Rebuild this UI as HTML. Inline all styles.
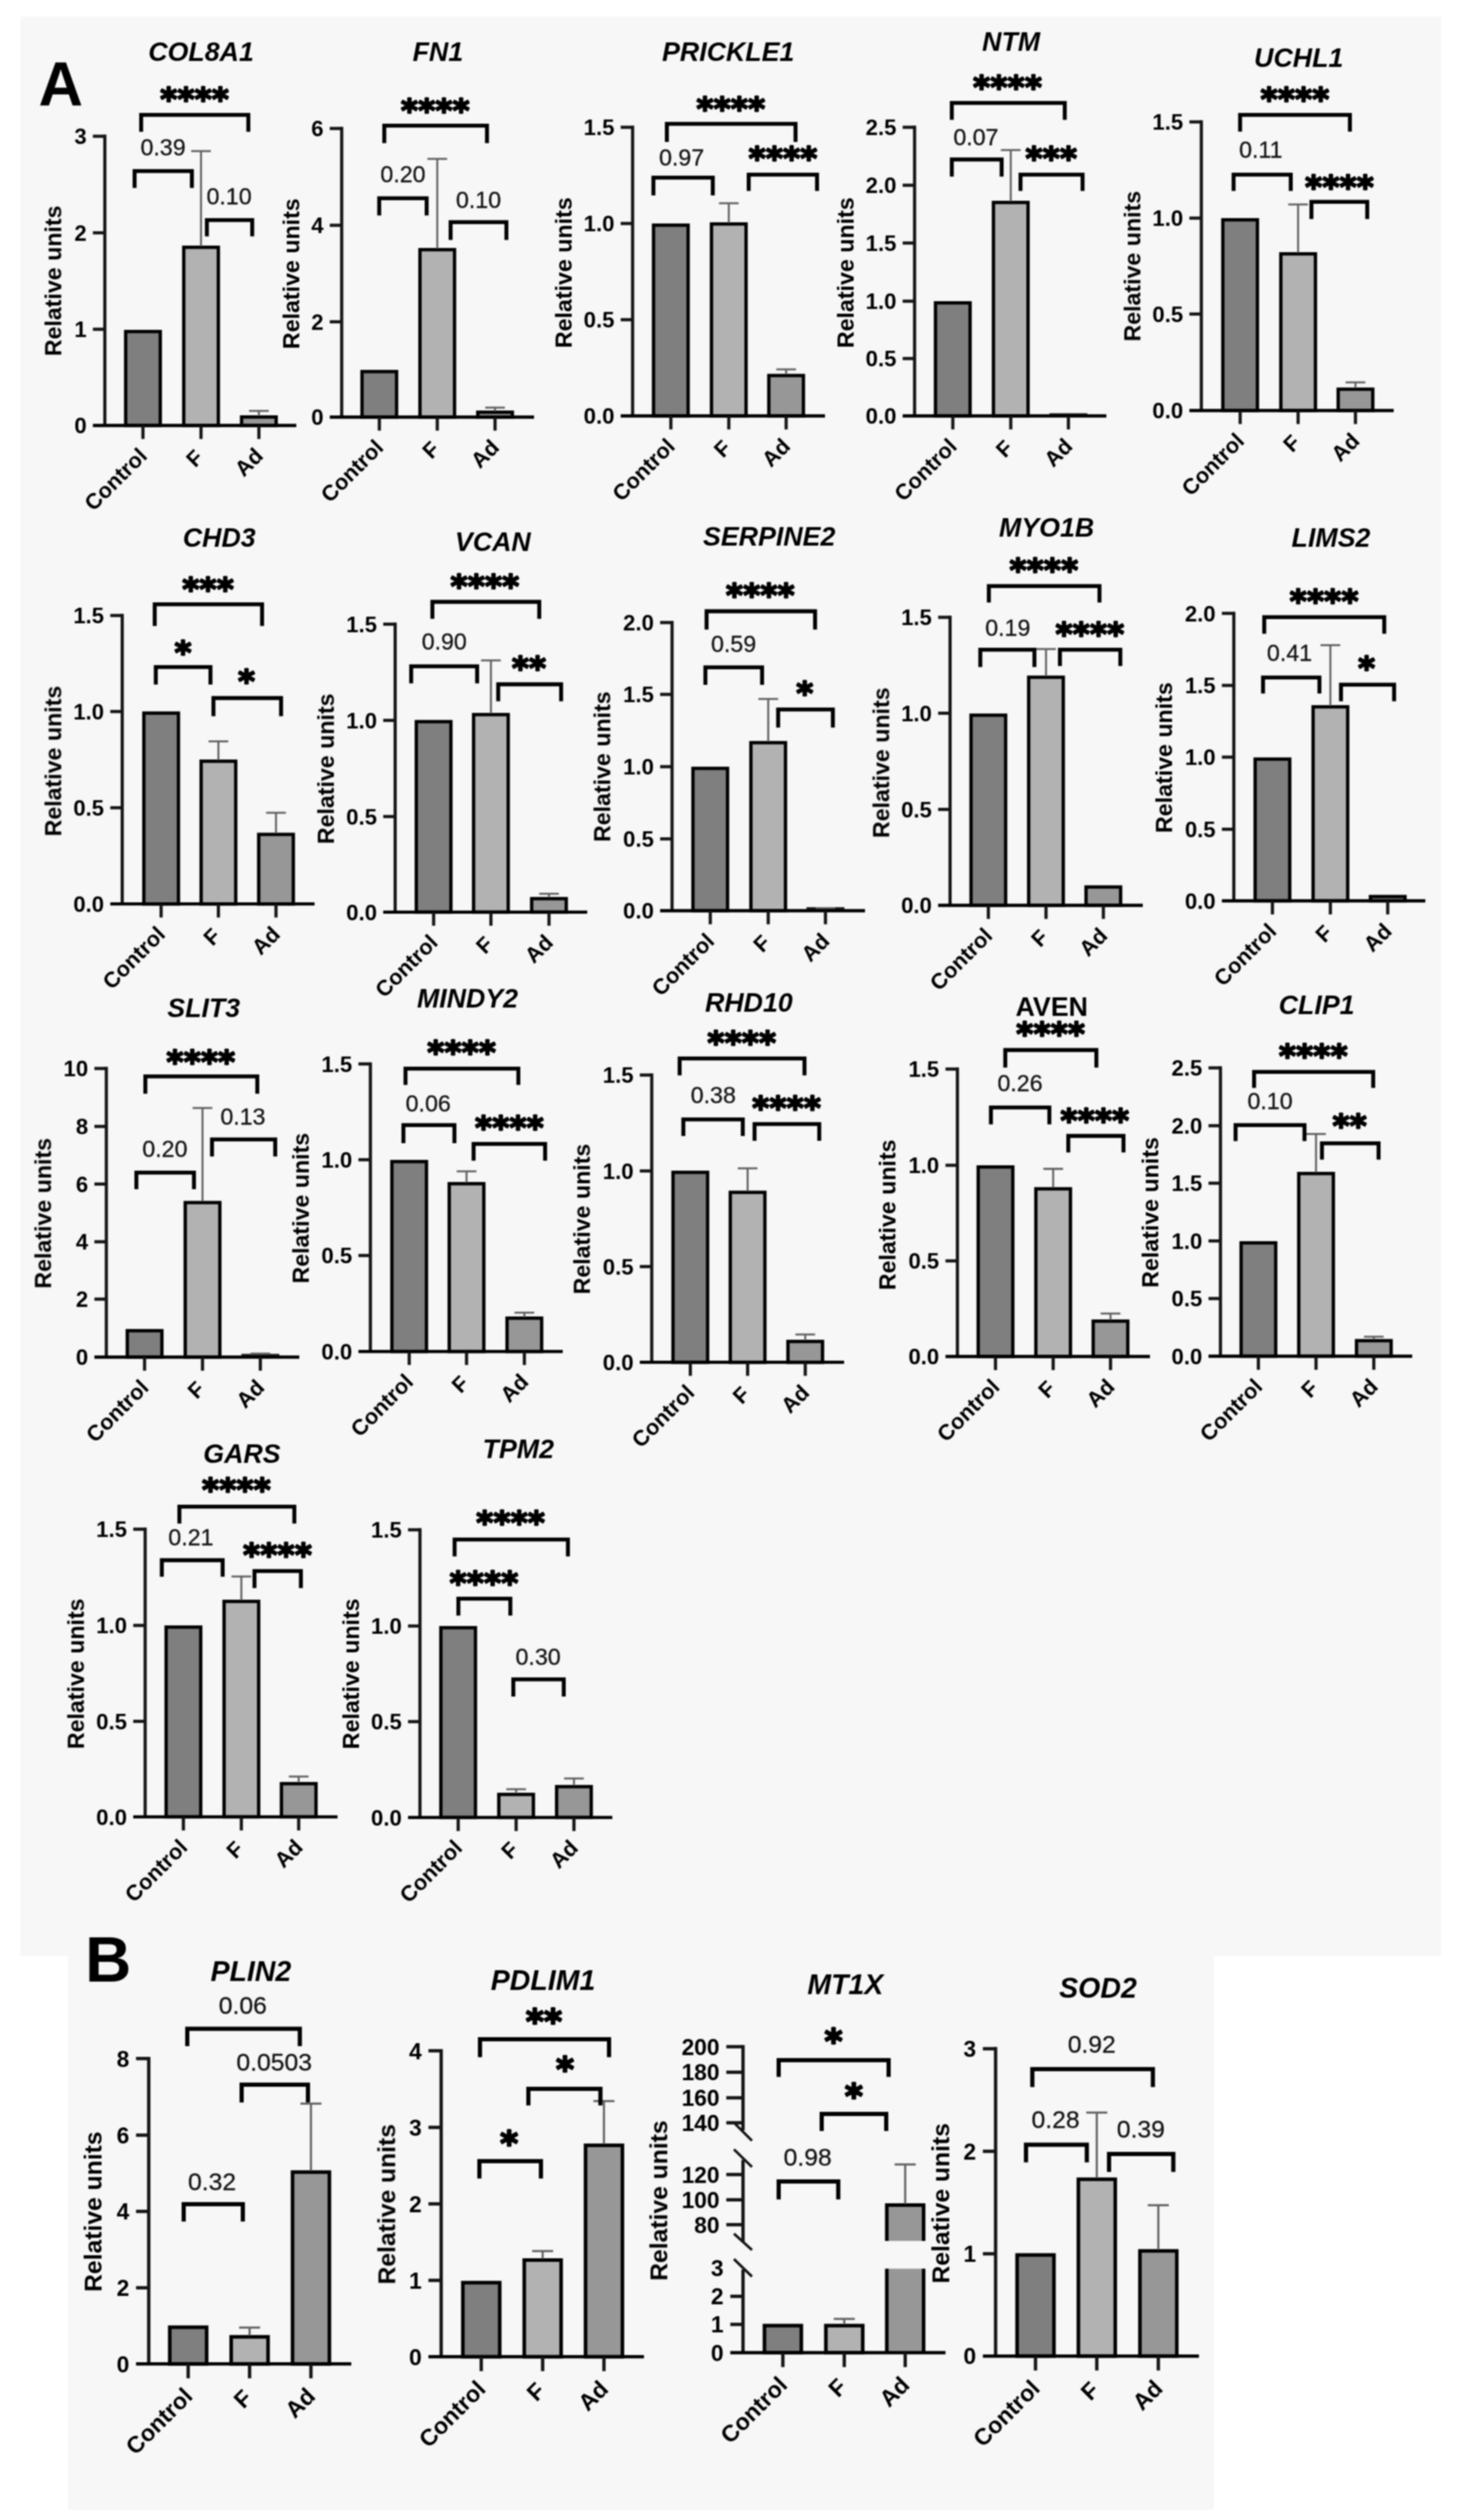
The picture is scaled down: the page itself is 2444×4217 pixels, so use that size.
<!DOCTYPE html>
<html lang="en"><head><meta charset="utf-8"><title>Figure</title>
<style>html,body{margin:0;padding:0;background:#fff}svg{display:block}</style>
</head><body>
<svg width="2444" height="4217" viewBox="0 0 2444 4217" font-family="'Liberation Sans', sans-serif">
<rect x="0" y="0" width="2444" height="4217" fill="#fff"/>
<defs><filter id="soft" filterUnits="userSpaceOnUse" x="0" y="0" width="2444" height="4217" color-interpolation-filters="sRGB"><feGaussianBlur stdDeviation="1.3"/></filter></defs>
<g id="fig" filter="url(#soft)">
<rect x="34" y="27.5" width="2378" height="3245.5" fill="#f7f7f7"/>
<rect x="114" y="3270" width="1918" height="930" fill="#f7f7f7"/>
<text x="336.5" y="101.5" font-size="44.8" font-weight="bold" font-style="italic" text-anchor="middle" fill="#000">COL8A1</text>
<text transform="translate(102.5,470) rotate(-90)" font-size="38.8" font-weight="bold" text-anchor="middle">Relative units</text>
<rect x="210.4" y="554.8" width="57.9" height="157.2" fill="#7f7f7f" stroke="#000" stroke-width="5.6"/>
<rect x="307.6" y="413.8" width="57.9" height="298.2" fill="#b2b2b2" stroke="#000" stroke-width="5.6"/>
<rect x="404.4" y="697.8" width="57.9" height="14.2" fill="#979797" stroke="#000" stroke-width="5.6"/>
<path d="M336.5 412V251.6M320 252.8H353" fill="none" stroke="#606060" stroke-width="3.3"/>
<path d="M433.4 696V686.5M416.9 687.7H449.9" fill="none" stroke="#606060" stroke-width="3.3"/>
<path d="M175.5 225.3V712" stroke="#141414" stroke-width="5.3" fill="none"/>
<path d="M155.5 712H496" stroke="#000" stroke-width="5.3" fill="none"/>
<text x="145" y="725.2" font-size="37" font-weight="bold" font-style="normal" text-anchor="end" fill="#000">0</text>
<path d="M155.5 551H175.5" stroke="#141414" stroke-width="5.3" fill="none"/>
<text x="145" y="564.2" font-size="37" font-weight="bold" font-style="normal" text-anchor="end" fill="#000">1</text>
<path d="M155.5 389.6H175.5" stroke="#141414" stroke-width="5.3" fill="none"/>
<text x="145" y="402.8" font-size="37" font-weight="bold" font-style="normal" text-anchor="end" fill="#000">2</text>
<path d="M155.5 228H175.5" stroke="#141414" stroke-width="5.3" fill="none"/>
<text x="145" y="241.2" font-size="37" font-weight="bold" font-style="normal" text-anchor="end" fill="#000">3</text>
<path d="M239.3 712V734.6" stroke="#141414" stroke-width="5.3" fill="none"/>
<text transform="translate(248.3,765) rotate(-45)" font-size="36.5" font-weight="bold" text-anchor="end">Control</text>
<path d="M336.5 712V734.6" stroke="#141414" stroke-width="5.3" fill="none"/>
<text transform="translate(342.5,768) rotate(-45)" font-size="36.5" font-weight="bold" text-anchor="end">F</text>
<path d="M433.4 712V734.6" stroke="#141414" stroke-width="5.3" fill="none"/>
<text transform="translate(442.4,765) rotate(-45)" font-size="36.5" font-weight="bold" text-anchor="end">Ad</text>
<path d="M236.3 220.5V192.3H415.7V220.5" fill="none" stroke="#000" stroke-width="6.6" stroke-linejoin="miter"/>
<text x="326" y="185" font-size="54" font-weight="bold" font-style="normal" text-anchor="middle" fill="#000" font-family="'DejaVu Sans', sans-serif" stroke="#000" stroke-width="3" stroke-linejoin="round" letter-spacing="0.6">****</text>
<path d="M225.3 314.5V286.3H321.2V314.5" fill="none" stroke="#000" stroke-width="6.6" stroke-linejoin="miter"/>
<text x="273" y="260" font-size="38.8" font-weight="normal" font-style="normal" text-anchor="middle" fill="#141414" stroke="#141414" stroke-width="0.45">0.39</text>
<path d="M346.3 395.5V368.3H422.2V395.5" fill="none" stroke="#000" stroke-width="6.6" stroke-linejoin="miter"/>
<text x="383.5" y="342" font-size="38.8" font-weight="normal" font-style="normal" text-anchor="middle" fill="#141414" stroke="#141414" stroke-width="0.45">0.10</text>
<text x="733" y="101.5" font-size="44.8" font-weight="bold" font-style="italic" text-anchor="middle" fill="#000">FN1</text>
<text transform="translate(500.5,458) rotate(-90)" font-size="38.8" font-weight="bold" text-anchor="middle">Relative units</text>
<rect x="606" y="621.8" width="57.9" height="76.2" fill="#7f7f7f" stroke="#000" stroke-width="5.6"/>
<rect x="703" y="417.8" width="57.9" height="280.2" fill="#b2b2b2" stroke="#000" stroke-width="5.6"/>
<rect x="799.8" y="689.8" width="57.9" height="8.2" fill="#979797" stroke="#000" stroke-width="5.6"/>
<path d="M732 416V264.6M715.5 265.8H748.5" fill="none" stroke="#606060" stroke-width="3.3"/>
<path d="M828.7 688V681M812.2 682.2H845.2" fill="none" stroke="#606060" stroke-width="3.3"/>
<path d="M572 212.3V698" stroke="#141414" stroke-width="5.3" fill="none"/>
<path d="M552 698H894" stroke="#000" stroke-width="5.3" fill="none"/>
<text x="541.5" y="711.2" font-size="37" font-weight="bold" font-style="normal" text-anchor="end" fill="#000">0</text>
<path d="M552 538.5H572" stroke="#141414" stroke-width="5.3" fill="none"/>
<text x="541.5" y="551.7" font-size="37" font-weight="bold" font-style="normal" text-anchor="end" fill="#000">2</text>
<path d="M552 377H572" stroke="#141414" stroke-width="5.3" fill="none"/>
<text x="541.5" y="390.2" font-size="37" font-weight="bold" font-style="normal" text-anchor="end" fill="#000">4</text>
<path d="M552 215H572" stroke="#141414" stroke-width="5.3" fill="none"/>
<text x="541.5" y="228.2" font-size="37" font-weight="bold" font-style="normal" text-anchor="end" fill="#000">6</text>
<path d="M635 698V720.6" stroke="#141414" stroke-width="5.3" fill="none"/>
<text transform="translate(644,751) rotate(-45)" font-size="36.5" font-weight="bold" text-anchor="end">Control</text>
<path d="M732 698V720.6" stroke="#141414" stroke-width="5.3" fill="none"/>
<text transform="translate(738,754) rotate(-45)" font-size="36.5" font-weight="bold" text-anchor="end">F</text>
<path d="M828.7 698V720.6" stroke="#141414" stroke-width="5.3" fill="none"/>
<text transform="translate(837.7,751) rotate(-45)" font-size="36.5" font-weight="bold" text-anchor="end">Ad</text>
<path d="M643.3 239.5V210.3H815.2V239.5" fill="none" stroke="#000" stroke-width="6.6" stroke-linejoin="miter"/>
<text x="729" y="204" font-size="54" font-weight="bold" font-style="normal" text-anchor="middle" fill="#000" font-family="'DejaVu Sans', sans-serif" stroke="#000" stroke-width="3" stroke-linejoin="round" letter-spacing="0.6">****</text>
<path d="M634.8 360.5V331.8H714.2V360.5" fill="none" stroke="#000" stroke-width="6.6" stroke-linejoin="miter"/>
<text x="674.6" y="304.5" font-size="38.8" font-weight="normal" font-style="normal" text-anchor="middle" fill="#141414" stroke="#141414" stroke-width="0.45">0.20</text>
<path d="M754.3 401.5V371.8H847.7V401.5" fill="none" stroke="#000" stroke-width="6.6" stroke-linejoin="miter"/>
<text x="801" y="347.5" font-size="38.8" font-weight="normal" font-style="normal" text-anchor="middle" fill="#141414" stroke="#141414" stroke-width="0.45">0.10</text>
<text x="1219" y="101.5" font-size="44.8" font-weight="bold" font-style="italic" text-anchor="middle" fill="#000">PRICKLE1</text>
<text transform="translate(957,456.4) rotate(-90)" font-size="38.8" font-weight="bold" text-anchor="middle">Relative units</text>
<rect x="1094" y="376.8" width="57.9" height="319.2" fill="#7f7f7f" stroke="#000" stroke-width="5.6"/>
<rect x="1191" y="374.8" width="57.9" height="321.2" fill="#b2b2b2" stroke="#000" stroke-width="5.6"/>
<rect x="1287" y="628.4" width="57.9" height="67.6" fill="#979797" stroke="#000" stroke-width="5.6"/>
<path d="M1220 373V339M1203.5 340.2H1236.5" fill="none" stroke="#606060" stroke-width="3.3"/>
<path d="M1316 626.6V617M1299.5 618.2H1332.5" fill="none" stroke="#606060" stroke-width="3.3"/>
<path d="M1059 210.3V696" stroke="#141414" stroke-width="5.3" fill="none"/>
<path d="M1039 696H1381" stroke="#000" stroke-width="5.3" fill="none"/>
<text x="1028.5" y="709.2" font-size="37" font-weight="bold" font-style="normal" text-anchor="end" fill="#000">0.0</text>
<path d="M1039 535H1059" stroke="#141414" stroke-width="5.3" fill="none"/>
<text x="1028.5" y="548.2" font-size="37" font-weight="bold" font-style="normal" text-anchor="end" fill="#000">0.5</text>
<path d="M1039 374H1059" stroke="#141414" stroke-width="5.3" fill="none"/>
<text x="1028.5" y="387.2" font-size="37" font-weight="bold" font-style="normal" text-anchor="end" fill="#000">1.0</text>
<path d="M1039 213H1059" stroke="#141414" stroke-width="5.3" fill="none"/>
<text x="1028.5" y="226.2" font-size="37" font-weight="bold" font-style="normal" text-anchor="end" fill="#000">1.5</text>
<path d="M1123 696V718.6" stroke="#141414" stroke-width="5.3" fill="none"/>
<text transform="translate(1132,749) rotate(-45)" font-size="36.5" font-weight="bold" text-anchor="end">Control</text>
<path d="M1220 696V718.6" stroke="#141414" stroke-width="5.3" fill="none"/>
<text transform="translate(1226,752) rotate(-45)" font-size="36.5" font-weight="bold" text-anchor="end">F</text>
<path d="M1316 696V718.6" stroke="#141414" stroke-width="5.3" fill="none"/>
<text transform="translate(1325,749) rotate(-45)" font-size="36.5" font-weight="bold" text-anchor="end">Ad</text>
<path d="M1116.3 237.5V207.3H1331.7V237.5" fill="none" stroke="#000" stroke-width="6.6" stroke-linejoin="miter"/>
<text x="1223.6" y="200.5" font-size="54" font-weight="bold" font-style="normal" text-anchor="middle" fill="#000" font-family="'DejaVu Sans', sans-serif" stroke="#000" stroke-width="3" stroke-linejoin="round" letter-spacing="0.6">****</text>
<path d="M1093.8 327V297.3H1193.2V327" fill="none" stroke="#000" stroke-width="6.6" stroke-linejoin="miter"/>
<text x="1141" y="277" font-size="38.8" font-weight="normal" font-style="normal" text-anchor="middle" fill="#141414" stroke="#141414" stroke-width="0.45">0.97</text>
<path d="M1253.3 319.5V292.3H1367.7V319.5" fill="none" stroke="#000" stroke-width="6.6" stroke-linejoin="miter"/>
<text x="1311" y="284" font-size="54" font-weight="bold" font-style="normal" text-anchor="middle" fill="#000" font-family="'DejaVu Sans', sans-serif" stroke="#000" stroke-width="3" stroke-linejoin="round" letter-spacing="0.6">****</text>
<text x="1692.6" y="84.5" font-size="44.8" font-weight="bold" font-style="italic" text-anchor="middle" fill="#000">NTM</text>
<text transform="translate(1429,456.4) rotate(-90)" font-size="38.8" font-weight="bold" text-anchor="middle">Relative units</text>
<rect x="1566" y="506.8" width="57.9" height="189.2" fill="#7f7f7f" stroke="#000" stroke-width="5.6"/>
<rect x="1663" y="338.8" width="57.9" height="357.2" fill="#b2b2b2" stroke="#000" stroke-width="5.6"/>
<rect x="1756.8" y="691.5" width="63.5" height="4.5" fill="#222"/>
<path d="M1692 337V250M1675.5 251.2H1708.5" fill="none" stroke="#606060" stroke-width="3.3"/>
<path d="M1531 210.3V696" stroke="#141414" stroke-width="5.3" fill="none"/>
<path d="M1511 696H1852" stroke="#000" stroke-width="5.3" fill="none"/>
<text x="1500.5" y="709.2" font-size="37" font-weight="bold" font-style="normal" text-anchor="end" fill="#000">0.0</text>
<path d="M1511 600H1531" stroke="#141414" stroke-width="5.3" fill="none"/>
<text x="1500.5" y="613.2" font-size="37" font-weight="bold" font-style="normal" text-anchor="end" fill="#000">0.5</text>
<path d="M1511 504H1531" stroke="#141414" stroke-width="5.3" fill="none"/>
<text x="1500.5" y="517.2" font-size="37" font-weight="bold" font-style="normal" text-anchor="end" fill="#000">1.0</text>
<path d="M1511 406.7H1531" stroke="#141414" stroke-width="5.3" fill="none"/>
<text x="1500.5" y="419.9" font-size="37" font-weight="bold" font-style="normal" text-anchor="end" fill="#000">1.5</text>
<path d="M1511 310H1531" stroke="#141414" stroke-width="5.3" fill="none"/>
<text x="1500.5" y="323.2" font-size="37" font-weight="bold" font-style="normal" text-anchor="end" fill="#000">2.0</text>
<path d="M1511 213H1531" stroke="#141414" stroke-width="5.3" fill="none"/>
<text x="1500.5" y="226.2" font-size="37" font-weight="bold" font-style="normal" text-anchor="end" fill="#000">2.5</text>
<path d="M1595 696V718.6" stroke="#141414" stroke-width="5.3" fill="none"/>
<text transform="translate(1604,749) rotate(-45)" font-size="36.5" font-weight="bold" text-anchor="end">Control</text>
<path d="M1692 696V718.6" stroke="#141414" stroke-width="5.3" fill="none"/>
<text transform="translate(1698,752) rotate(-45)" font-size="36.5" font-weight="bold" text-anchor="end">F</text>
<path d="M1788.5 696V718.6" stroke="#141414" stroke-width="5.3" fill="none"/>
<text transform="translate(1797.5,749) rotate(-45)" font-size="36.5" font-weight="bold" text-anchor="end">Ad</text>
<path d="M1593.3 200.5V172.3H1782.4V200.5" fill="none" stroke="#000" stroke-width="6.6" stroke-linejoin="miter"/>
<text x="1686.8" y="165" font-size="54" font-weight="bold" font-style="normal" text-anchor="middle" fill="#000" font-family="'DejaVu Sans', sans-serif" stroke="#000" stroke-width="3" stroke-linejoin="round" letter-spacing="0.6">****</text>
<path d="M1593.3 295.5V266.9H1676.7V295.5" fill="none" stroke="#000" stroke-width="6.6" stroke-linejoin="miter"/>
<text x="1633.7" y="242.5" font-size="38.8" font-weight="normal" font-style="normal" text-anchor="middle" fill="#141414" stroke="#141414" stroke-width="0.45">0.07</text>
<path d="M1708.3 319.5V292.3H1812.2V319.5" fill="none" stroke="#000" stroke-width="6.6" stroke-linejoin="miter"/>
<text x="1760" y="284" font-size="54" font-weight="bold" font-style="normal" text-anchor="middle" fill="#000" font-family="'DejaVu Sans', sans-serif" stroke="#000" stroke-width="3" stroke-linejoin="round" letter-spacing="0.6">***</text>
<text x="2174" y="111.5" font-size="44.8" font-weight="bold" font-style="italic" text-anchor="middle" fill="#000">UCHL1</text>
<text transform="translate(1909,445.5) rotate(-90)" font-size="38.8" font-weight="bold" text-anchor="middle">Relative units</text>
<rect x="2047" y="367.8" width="57.9" height="319.2" fill="#7f7f7f" stroke="#000" stroke-width="5.6"/>
<rect x="2144.1" y="424.8" width="57.9" height="262.2" fill="#b2b2b2" stroke="#000" stroke-width="5.6"/>
<rect x="2240.1" y="651.3" width="57.9" height="35.7" fill="#979797" stroke="#000" stroke-width="5.6"/>
<path d="M2173 423V341M2156.5 342.2H2189.5" fill="none" stroke="#606060" stroke-width="3.3"/>
<path d="M2269 649.5V638.6M2252.5 639.8H2285.5" fill="none" stroke="#606060" stroke-width="3.3"/>
<path d="M2011 201.3V687" stroke="#141414" stroke-width="5.3" fill="none"/>
<path d="M1991 687H2333" stroke="#000" stroke-width="5.3" fill="none"/>
<text x="1980.5" y="700.2" font-size="37" font-weight="bold" font-style="normal" text-anchor="end" fill="#000">0.0</text>
<path d="M1991 525.5H2011" stroke="#141414" stroke-width="5.3" fill="none"/>
<text x="1980.5" y="538.7" font-size="37" font-weight="bold" font-style="normal" text-anchor="end" fill="#000">0.5</text>
<path d="M1991 365H2011" stroke="#141414" stroke-width="5.3" fill="none"/>
<text x="1980.5" y="378.2" font-size="37" font-weight="bold" font-style="normal" text-anchor="end" fill="#000">1.0</text>
<path d="M1991 204H2011" stroke="#141414" stroke-width="5.3" fill="none"/>
<text x="1980.5" y="217.2" font-size="37" font-weight="bold" font-style="normal" text-anchor="end" fill="#000">1.5</text>
<path d="M2076 687V709.6" stroke="#141414" stroke-width="5.3" fill="none"/>
<text transform="translate(2085,740) rotate(-45)" font-size="36.5" font-weight="bold" text-anchor="end">Control</text>
<path d="M2173 687V709.6" stroke="#141414" stroke-width="5.3" fill="none"/>
<text transform="translate(2179,743) rotate(-45)" font-size="36.5" font-weight="bold" text-anchor="end">F</text>
<path d="M2269 687V709.6" stroke="#141414" stroke-width="5.3" fill="none"/>
<text transform="translate(2278,740) rotate(-45)" font-size="36.5" font-weight="bold" text-anchor="end">Ad</text>
<path d="M2075.9 220.2V192.3H2259.7V220.2" fill="none" stroke="#000" stroke-width="6.6" stroke-linejoin="miter"/>
<text x="2168" y="184.5" font-size="54" font-weight="bold" font-style="normal" text-anchor="middle" fill="#000" font-family="'DejaVu Sans', sans-serif" stroke="#000" stroke-width="3" stroke-linejoin="round" letter-spacing="0.6">****</text>
<path d="M2065 319.5V292.3H2160.7V319.5" fill="none" stroke="#000" stroke-width="6.6" stroke-linejoin="miter"/>
<text x="2110.6" y="264" font-size="38.8" font-weight="normal" font-style="normal" text-anchor="middle" fill="#141414" stroke="#141414" stroke-width="0.45">0.11</text>
<path d="M2195.3 366.5V337.8H2288.7V366.5" fill="none" stroke="#000" stroke-width="6.6" stroke-linejoin="miter"/>
<text x="2242.5" y="331.7" font-size="54" font-weight="bold" font-style="normal" text-anchor="middle" fill="#000" font-family="'DejaVu Sans', sans-serif" stroke="#000" stroke-width="3" stroke-linejoin="round" letter-spacing="0.6">****</text>
<text x="367" y="915" font-size="44.8" font-weight="bold" font-style="italic" text-anchor="middle" fill="#000">CHD3</text>
<text transform="translate(102.5,1273.6) rotate(-90)" font-size="38.8" font-weight="bold" text-anchor="middle">Relative units</text>
<rect x="240.8" y="1193.3" width="57.9" height="319.4" fill="#7f7f7f" stroke="#000" stroke-width="5.6"/>
<rect x="336.7" y="1273.8" width="57.9" height="238.9" fill="#b2b2b2" stroke="#000" stroke-width="5.6"/>
<rect x="433.1" y="1396.3" width="57.9" height="116.4" fill="#979797" stroke="#000" stroke-width="5.6"/>
<path d="M365.6 1272V1239.4M349.1 1240.6H382.1" fill="none" stroke="#606060" stroke-width="3.3"/>
<path d="M462 1394.5V1359M445.5 1360.2H478.5" fill="none" stroke="#606060" stroke-width="3.3"/>
<path d="M204.6 1027.3V1512.7" stroke="#141414" stroke-width="5.3" fill="none"/>
<path d="M184.6 1512.7H526.6" stroke="#000" stroke-width="5.3" fill="none"/>
<text x="174.1" y="1525.9" font-size="37" font-weight="bold" font-style="normal" text-anchor="end" fill="#000">0.0</text>
<path d="M184.6 1351.7H204.6" stroke="#141414" stroke-width="5.3" fill="none"/>
<text x="174.1" y="1364.9" font-size="37" font-weight="bold" font-style="normal" text-anchor="end" fill="#000">0.5</text>
<path d="M184.6 1190.7H204.6" stroke="#141414" stroke-width="5.3" fill="none"/>
<text x="174.1" y="1203.9" font-size="37" font-weight="bold" font-style="normal" text-anchor="end" fill="#000">1.0</text>
<path d="M184.6 1030H204.6" stroke="#141414" stroke-width="5.3" fill="none"/>
<text x="174.1" y="1043.2" font-size="37" font-weight="bold" font-style="normal" text-anchor="end" fill="#000">1.5</text>
<path d="M269.7 1512.7V1535.4" stroke="#141414" stroke-width="5.3" fill="none"/>
<text transform="translate(278.7,1565.7) rotate(-45)" font-size="36.5" font-weight="bold" text-anchor="end">Control</text>
<path d="M365.6 1512.7V1535.4" stroke="#141414" stroke-width="5.3" fill="none"/>
<text transform="translate(371.6,1568.7) rotate(-45)" font-size="36.5" font-weight="bold" text-anchor="end">F</text>
<path d="M462 1512.7V1535.4" stroke="#141414" stroke-width="5.3" fill="none"/>
<text transform="translate(471,1565.7) rotate(-45)" font-size="36.5" font-weight="bold" text-anchor="end">Ad</text>
<path d="M259 1047.5V1011.3H438.7V1047.5" fill="none" stroke="#000" stroke-width="6.6" stroke-linejoin="miter"/>
<text x="348.5" y="1004.5" font-size="54" font-weight="bold" font-style="normal" text-anchor="middle" fill="#000" font-family="'DejaVu Sans', sans-serif" stroke="#000" stroke-width="3" stroke-linejoin="round" letter-spacing="0.6">***</text>
<path d="M260.8 1145.5V1116.3H352.3V1145.5" fill="none" stroke="#000" stroke-width="6.6" stroke-linejoin="miter"/>
<text x="306.7" y="1110.6" font-size="54" font-weight="bold" font-style="normal" text-anchor="middle" fill="#000" font-family="'DejaVu Sans', sans-serif" stroke="#000" stroke-width="3" stroke-linejoin="round" letter-spacing="0.6">*</text>
<path d="M357.3 1198.5V1168.1H470.5V1198.5" fill="none" stroke="#000" stroke-width="6.6" stroke-linejoin="miter"/>
<text x="412.9" y="1159" font-size="54" font-weight="bold" font-style="normal" text-anchor="middle" fill="#000" font-family="'DejaVu Sans', sans-serif" stroke="#000" stroke-width="3" stroke-linejoin="round" letter-spacing="0.6">*</text>
<text x="825" y="922" font-size="44.8" font-weight="bold" font-style="italic" text-anchor="middle" fill="#000">VCAN</text>
<text transform="translate(559,1286.6) rotate(-90)" font-size="38.8" font-weight="bold" text-anchor="middle">Relative units</text>
<rect x="696.9" y="1207.6" width="57.9" height="318.8" fill="#7f7f7f" stroke="#000" stroke-width="5.6"/>
<rect x="792.8" y="1195.8" width="57.9" height="330.6" fill="#b2b2b2" stroke="#000" stroke-width="5.6"/>
<rect x="890" y="1503.8" width="57.9" height="22.6" fill="#979797" stroke="#000" stroke-width="5.6"/>
<path d="M821.8 1194V1104M805.3 1105.2H838.3" fill="none" stroke="#606060" stroke-width="3.3"/>
<path d="M919 1502V1494.5M902.5 1495.7H935.5" fill="none" stroke="#606060" stroke-width="3.3"/>
<path d="M661.5 1041.8V1526.4" stroke="#141414" stroke-width="5.3" fill="none"/>
<path d="M641.5 1526.4H983" stroke="#000" stroke-width="5.3" fill="none"/>
<text x="631" y="1539.6" font-size="37" font-weight="bold" font-style="normal" text-anchor="end" fill="#000">0.0</text>
<path d="M641.5 1366.4H661.5" stroke="#141414" stroke-width="5.3" fill="none"/>
<text x="631" y="1379.6" font-size="37" font-weight="bold" font-style="normal" text-anchor="end" fill="#000">0.5</text>
<path d="M641.5 1205.5H661.5" stroke="#141414" stroke-width="5.3" fill="none"/>
<text x="631" y="1218.7" font-size="37" font-weight="bold" font-style="normal" text-anchor="end" fill="#000">1.0</text>
<path d="M641.5 1044.5H661.5" stroke="#141414" stroke-width="5.3" fill="none"/>
<text x="631" y="1057.7" font-size="37" font-weight="bold" font-style="normal" text-anchor="end" fill="#000">1.5</text>
<path d="M725.9 1526.4V1549.1" stroke="#141414" stroke-width="5.3" fill="none"/>
<text transform="translate(734.9,1579.4) rotate(-45)" font-size="36.5" font-weight="bold" text-anchor="end">Control</text>
<path d="M821.8 1526.4V1549.1" stroke="#141414" stroke-width="5.3" fill="none"/>
<text transform="translate(827.8,1582.4) rotate(-45)" font-size="36.5" font-weight="bold" text-anchor="end">F</text>
<path d="M919 1526.4V1549.1" stroke="#141414" stroke-width="5.3" fill="none"/>
<text transform="translate(928,1579.4) rotate(-45)" font-size="36.5" font-weight="bold" text-anchor="end">Ad</text>
<path d="M723.8 1035.5V1007.1H902.7V1035.5" fill="none" stroke="#000" stroke-width="6.6" stroke-linejoin="miter"/>
<text x="812" y="1000" font-size="54" font-weight="bold" font-style="normal" text-anchor="middle" fill="#000" font-family="'DejaVu Sans', sans-serif" stroke="#000" stroke-width="3" stroke-linejoin="round" letter-spacing="0.6">****</text>
<path d="M688.3 1143.5V1115H798.7V1143.5" fill="none" stroke="#000" stroke-width="6.6" stroke-linejoin="miter"/>
<text x="743.7" y="1086.5" font-size="38.8" font-weight="normal" font-style="normal" text-anchor="middle" fill="#141414" stroke="#141414" stroke-width="0.45">0.90</text>
<path d="M834 1173.5V1145.1H939.3V1173.5" fill="none" stroke="#000" stroke-width="6.6" stroke-linejoin="miter"/>
<text x="885.8" y="1137" font-size="54" font-weight="bold" font-style="normal" text-anchor="middle" fill="#000" font-family="'DejaVu Sans', sans-serif" stroke="#000" stroke-width="3" stroke-linejoin="round" letter-spacing="0.6">**</text>
<text x="1287.6" y="913" font-size="44.8" font-weight="bold" font-style="italic" text-anchor="middle" fill="#000">SERPINE2</text>
<text transform="translate(1021.5,1283) rotate(-90)" font-size="38.8" font-weight="bold" text-anchor="middle">Relative units</text>
<rect x="1160" y="1285.8" width="57.9" height="238.2" fill="#7f7f7f" stroke="#000" stroke-width="5.6"/>
<rect x="1257" y="1242.8" width="57.9" height="281.2" fill="#b2b2b2" stroke="#000" stroke-width="5.6"/>
<rect x="1350" y="1518" width="63.5" height="6" fill="#222"/>
<path d="M1286 1241V1168.5M1269.5 1169.7H1302.5" fill="none" stroke="#606060" stroke-width="3.3"/>
<path d="M1381.8 1519V1518.5M1365.3 1519.7H1398.3" fill="none" stroke="#606060" stroke-width="3.3"/>
<path d="M1125 1039.1V1524" stroke="#141414" stroke-width="5.3" fill="none"/>
<path d="M1105 1524H1448" stroke="#000" stroke-width="5.3" fill="none"/>
<text x="1094.5" y="1537.2" font-size="37" font-weight="bold" font-style="normal" text-anchor="end" fill="#000">0.0</text>
<path d="M1105 1403.8H1125" stroke="#141414" stroke-width="5.3" fill="none"/>
<text x="1094.5" y="1417" font-size="37" font-weight="bold" font-style="normal" text-anchor="end" fill="#000">0.5</text>
<path d="M1105 1283H1125" stroke="#141414" stroke-width="5.3" fill="none"/>
<text x="1094.5" y="1296.2" font-size="37" font-weight="bold" font-style="normal" text-anchor="end" fill="#000">1.0</text>
<path d="M1105 1162H1125" stroke="#141414" stroke-width="5.3" fill="none"/>
<text x="1094.5" y="1175.2" font-size="37" font-weight="bold" font-style="normal" text-anchor="end" fill="#000">1.5</text>
<path d="M1105 1041.8H1125" stroke="#141414" stroke-width="5.3" fill="none"/>
<text x="1094.5" y="1055" font-size="37" font-weight="bold" font-style="normal" text-anchor="end" fill="#000">2.0</text>
<path d="M1189 1524V1546.7" stroke="#141414" stroke-width="5.3" fill="none"/>
<text transform="translate(1198,1577) rotate(-45)" font-size="36.5" font-weight="bold" text-anchor="end">Control</text>
<path d="M1286 1524V1546.7" stroke="#141414" stroke-width="5.3" fill="none"/>
<text transform="translate(1292,1580) rotate(-45)" font-size="36.5" font-weight="bold" text-anchor="end">F</text>
<path d="M1381.8 1524V1546.7" stroke="#141414" stroke-width="5.3" fill="none"/>
<text transform="translate(1390.8,1577) rotate(-45)" font-size="36.5" font-weight="bold" text-anchor="end">Ad</text>
<path d="M1182.8 1053.5V1022.9H1364.4V1053.5" fill="none" stroke="#000" stroke-width="6.6" stroke-linejoin="miter"/>
<text x="1273" y="1014.5" font-size="54" font-weight="bold" font-style="normal" text-anchor="middle" fill="#000" font-family="'DejaVu Sans', sans-serif" stroke="#000" stroke-width="3" stroke-linejoin="round" letter-spacing="0.6">****</text>
<path d="M1180.8 1146V1116.8H1275.7V1146" fill="none" stroke="#000" stroke-width="6.6" stroke-linejoin="miter"/>
<text x="1228" y="1091" font-size="38.8" font-weight="normal" font-style="normal" text-anchor="middle" fill="#141414" stroke="#141414" stroke-width="0.45">0.59</text>
<path d="M1302.6 1217.5V1187.3H1394.2V1217.5" fill="none" stroke="#000" stroke-width="6.6" stroke-linejoin="miter"/>
<text x="1347.5" y="1179" font-size="54" font-weight="bold" font-style="normal" text-anchor="middle" fill="#000" font-family="'DejaVu Sans', sans-serif" stroke="#000" stroke-width="3" stroke-linejoin="round" letter-spacing="0.6">*</text>
<text x="1752" y="898" font-size="44.8" font-weight="bold" font-style="italic" text-anchor="middle" fill="#000">MYO1B</text>
<text transform="translate(1488.5,1276.4) rotate(-90)" font-size="38.8" font-weight="bold" text-anchor="middle">Relative units</text>
<rect x="1625.5" y="1196.8" width="57.9" height="318.2" fill="#7f7f7f" stroke="#000" stroke-width="5.6"/>
<rect x="1722" y="1133.3" width="57.9" height="381.7" fill="#b2b2b2" stroke="#000" stroke-width="5.6"/>
<rect x="1818" y="1484.3" width="57.9" height="30.7" fill="#979797" stroke="#000" stroke-width="5.6"/>
<path d="M1751 1131.5V1085M1734.5 1086.2H1767.5" fill="none" stroke="#606060" stroke-width="3.3"/>
<path d="M1590.4 1030.3V1515" stroke="#141414" stroke-width="5.3" fill="none"/>
<path d="M1570.4 1515H1913" stroke="#000" stroke-width="5.3" fill="none"/>
<text x="1559.9" y="1528.2" font-size="37" font-weight="bold" font-style="normal" text-anchor="end" fill="#000">0.0</text>
<path d="M1570.4 1354.5H1590.4" stroke="#141414" stroke-width="5.3" fill="none"/>
<text x="1559.9" y="1367.7" font-size="37" font-weight="bold" font-style="normal" text-anchor="end" fill="#000">0.5</text>
<path d="M1570.4 1193.5H1590.4" stroke="#141414" stroke-width="5.3" fill="none"/>
<text x="1559.9" y="1206.7" font-size="37" font-weight="bold" font-style="normal" text-anchor="end" fill="#000">1.0</text>
<path d="M1570.4 1033H1590.4" stroke="#141414" stroke-width="5.3" fill="none"/>
<text x="1559.9" y="1046.2" font-size="37" font-weight="bold" font-style="normal" text-anchor="end" fill="#000">1.5</text>
<path d="M1654.5 1515V1537.7" stroke="#141414" stroke-width="5.3" fill="none"/>
<text transform="translate(1663.5,1568) rotate(-45)" font-size="36.5" font-weight="bold" text-anchor="end">Control</text>
<path d="M1751 1515V1537.7" stroke="#141414" stroke-width="5.3" fill="none"/>
<text transform="translate(1757,1571) rotate(-45)" font-size="36.5" font-weight="bold" text-anchor="end">F</text>
<path d="M1847 1515V1537.7" stroke="#141414" stroke-width="5.3" fill="none"/>
<text transform="translate(1856,1568) rotate(-45)" font-size="36.5" font-weight="bold" text-anchor="end">Ad</text>
<path d="M1655.3 1008.3V980.8H1840.5V1008.3" fill="none" stroke="#000" stroke-width="6.6" stroke-linejoin="miter"/>
<text x="1747.6" y="972.6" font-size="54" font-weight="bold" font-style="normal" text-anchor="middle" fill="#000" font-family="'DejaVu Sans', sans-serif" stroke="#000" stroke-width="3" stroke-linejoin="round" letter-spacing="0.6">****</text>
<path d="M1641 1116.2V1087.3H1731.6V1116.2" fill="none" stroke="#000" stroke-width="6.6" stroke-linejoin="miter"/>
<text x="1687" y="1063.5" font-size="38.8" font-weight="normal" font-style="normal" text-anchor="middle" fill="#141414" stroke="#141414" stroke-width="0.45">0.19</text>
<path d="M1774.3 1114.5V1087.3H1875.4V1114.5" fill="none" stroke="#000" stroke-width="6.6" stroke-linejoin="miter"/>
<text x="1824.7" y="1079.8" font-size="54" font-weight="bold" font-style="normal" text-anchor="middle" fill="#000" font-family="'DejaVu Sans', sans-serif" stroke="#000" stroke-width="3" stroke-linejoin="round" letter-spacing="0.6">****</text>
<text x="2228" y="915" font-size="44.8" font-weight="bold" font-style="italic" text-anchor="middle" fill="#000">LIMS2</text>
<text transform="translate(1962,1267.8) rotate(-90)" font-size="38.8" font-weight="bold" text-anchor="middle">Relative units</text>
<rect x="2101.1" y="1270.3" width="57.9" height="237.2" fill="#7f7f7f" stroke="#000" stroke-width="5.6"/>
<rect x="2198.1" y="1182.8" width="57.9" height="324.7" fill="#b2b2b2" stroke="#000" stroke-width="5.6"/>
<rect x="2294.1" y="1500.3" width="57.9" height="7.2" fill="#979797" stroke="#000" stroke-width="5.6"/>
<path d="M2227 1181V1078.5M2210.5 1079.7H2243.5" fill="none" stroke="#606060" stroke-width="3.3"/>
<path d="M2065.4 1023.8V1507.5" stroke="#141414" stroke-width="5.3" fill="none"/>
<path d="M2045.4 1507.5H2386" stroke="#000" stroke-width="5.3" fill="none"/>
<text x="2034.9" y="1520.7" font-size="37" font-weight="bold" font-style="normal" text-anchor="end" fill="#000">0.0</text>
<path d="M2045.4 1387.7H2065.4" stroke="#141414" stroke-width="5.3" fill="none"/>
<text x="2034.9" y="1400.9" font-size="37" font-weight="bold" font-style="normal" text-anchor="end" fill="#000">0.5</text>
<path d="M2045.4 1267H2065.4" stroke="#141414" stroke-width="5.3" fill="none"/>
<text x="2034.9" y="1280.2" font-size="37" font-weight="bold" font-style="normal" text-anchor="end" fill="#000">1.0</text>
<path d="M2045.4 1147H2065.4" stroke="#141414" stroke-width="5.3" fill="none"/>
<text x="2034.9" y="1160.2" font-size="37" font-weight="bold" font-style="normal" text-anchor="end" fill="#000">1.5</text>
<path d="M2045.4 1026.4H2065.4" stroke="#141414" stroke-width="5.3" fill="none"/>
<text x="2034.9" y="1039.6" font-size="37" font-weight="bold" font-style="normal" text-anchor="end" fill="#000">2.0</text>
<path d="M2130 1507.5V1530.2" stroke="#141414" stroke-width="5.3" fill="none"/>
<text transform="translate(2139,1560.5) rotate(-45)" font-size="36.5" font-weight="bold" text-anchor="end">Control</text>
<path d="M2227 1507.5V1530.2" stroke="#141414" stroke-width="5.3" fill="none"/>
<text transform="translate(2233,1563.5) rotate(-45)" font-size="36.5" font-weight="bold" text-anchor="end">F</text>
<path d="M2323 1507.5V1530.2" stroke="#141414" stroke-width="5.3" fill="none"/>
<text transform="translate(2332,1560.5) rotate(-45)" font-size="36.5" font-weight="bold" text-anchor="end">Ad</text>
<path d="M2116.3 1060.5V1032.8H2317.2V1060.5" fill="none" stroke="#000" stroke-width="6.6" stroke-linejoin="miter"/>
<text x="2216.8" y="1025" font-size="54" font-weight="bold" font-style="normal" text-anchor="middle" fill="#000" font-family="'DejaVu Sans', sans-serif" stroke="#000" stroke-width="3" stroke-linejoin="round" letter-spacing="0.6">****</text>
<path d="M2114.3 1160.5V1133.8H2208.7V1160.5" fill="none" stroke="#000" stroke-width="6.6" stroke-linejoin="miter"/>
<text x="2158.6" y="1105.5" font-size="38.8" font-weight="normal" font-style="normal" text-anchor="middle" fill="#141414" stroke="#141414" stroke-width="0.45">0.41</text>
<path d="M2244.8 1173.5V1145.8H2333.7V1173.5" fill="none" stroke="#000" stroke-width="6.6" stroke-linejoin="miter"/>
<text x="2288" y="1137" font-size="54" font-weight="bold" font-style="normal" text-anchor="middle" fill="#000" font-family="'DejaVu Sans', sans-serif" stroke="#000" stroke-width="3" stroke-linejoin="round" letter-spacing="0.6">*</text>
<text x="341" y="1701.6" font-size="44.8" font-weight="bold" font-style="italic" text-anchor="middle" fill="#000">SLIT3</text>
<text transform="translate(85.5,2030.4) rotate(-90)" font-size="38.8" font-weight="bold" text-anchor="middle">Relative units</text>
<rect x="213.1" y="2226.8" width="57.9" height="44.2" fill="#7f7f7f" stroke="#000" stroke-width="5.6"/>
<rect x="310.1" y="2012.4" width="57.9" height="258.6" fill="#b2b2b2" stroke="#000" stroke-width="5.6"/>
<rect x="404.1" y="2265.5" width="63.5" height="5.5" fill="#222"/>
<path d="M339 2010.6V1853M322.5 1854.2H355.5" fill="none" stroke="#606060" stroke-width="3.3"/>
<path d="M435.8 2266.5V2264M419.3 2265.2H452.3" fill="none" stroke="#606060" stroke-width="3.3"/>
<path d="M178 1785.3V2271" stroke="#141414" stroke-width="5.3" fill="none"/>
<path d="M158 2271H501" stroke="#000" stroke-width="5.3" fill="none"/>
<text x="147.5" y="2284.2" font-size="37" font-weight="bold" font-style="normal" text-anchor="end" fill="#000">0</text>
<path d="M158 2174H178" stroke="#141414" stroke-width="5.3" fill="none"/>
<text x="147.5" y="2187.2" font-size="37" font-weight="bold" font-style="normal" text-anchor="end" fill="#000">2</text>
<path d="M158 2078H178" stroke="#141414" stroke-width="5.3" fill="none"/>
<text x="147.5" y="2091.2" font-size="37" font-weight="bold" font-style="normal" text-anchor="end" fill="#000">4</text>
<path d="M158 1981.4H178" stroke="#141414" stroke-width="5.3" fill="none"/>
<text x="147.5" y="1994.6" font-size="37" font-weight="bold" font-style="normal" text-anchor="end" fill="#000">6</text>
<path d="M158 1885H178" stroke="#141414" stroke-width="5.3" fill="none"/>
<text x="147.5" y="1898.2" font-size="37" font-weight="bold" font-style="normal" text-anchor="end" fill="#000">8</text>
<path d="M158 1788H178" stroke="#141414" stroke-width="5.3" fill="none"/>
<text x="147.5" y="1801.2" font-size="37" font-weight="bold" font-style="normal" text-anchor="end" fill="#000">10</text>
<path d="M242 2271V2293.7" stroke="#141414" stroke-width="5.3" fill="none"/>
<text transform="translate(251,2324) rotate(-45)" font-size="36.5" font-weight="bold" text-anchor="end">Control</text>
<path d="M339 2271V2293.7" stroke="#141414" stroke-width="5.3" fill="none"/>
<text transform="translate(345,2327) rotate(-45)" font-size="36.5" font-weight="bold" text-anchor="end">F</text>
<path d="M435.8 2271V2293.7" stroke="#141414" stroke-width="5.3" fill="none"/>
<text transform="translate(444.8,2324) rotate(-45)" font-size="36.5" font-weight="bold" text-anchor="end">Ad</text>
<path d="M243.3 1830.2V1801.3H430.7V1830.2" fill="none" stroke="#000" stroke-width="6.6" stroke-linejoin="miter"/>
<text x="336.5" y="1795.8" font-size="54" font-weight="bold" font-style="normal" text-anchor="middle" fill="#000" font-family="'DejaVu Sans', sans-serif" stroke="#000" stroke-width="3" stroke-linejoin="round" letter-spacing="0.6">****</text>
<path d="M228.3 1990.1V1962.3H324.7V1990.1" fill="none" stroke="#000" stroke-width="6.6" stroke-linejoin="miter"/>
<text x="276" y="1935.5" font-size="38.8" font-weight="normal" font-style="normal" text-anchor="middle" fill="#141414" stroke="#141414" stroke-width="0.45">0.20</text>
<path d="M354.9 1935.3V1906.7H460.7V1935.3" fill="none" stroke="#000" stroke-width="6.6" stroke-linejoin="miter"/>
<text x="406.7" y="1881.9" font-size="38.8" font-weight="normal" font-style="normal" text-anchor="middle" fill="#141414" stroke="#141414" stroke-width="0.45">0.13</text>
<text x="782.6" y="1686" font-size="44.8" font-weight="bold" font-style="italic" text-anchor="middle" fill="#000">MINDY2</text>
<text transform="translate(517,2021.8) rotate(-90)" font-size="38.8" font-weight="bold" text-anchor="middle">Relative units</text>
<rect x="656" y="1943.8" width="57.9" height="317.8" fill="#7f7f7f" stroke="#000" stroke-width="5.6"/>
<rect x="752" y="1980.8" width="57.9" height="280.8" fill="#b2b2b2" stroke="#000" stroke-width="5.6"/>
<rect x="848.8" y="2205.8" width="57.9" height="55.8" fill="#979797" stroke="#000" stroke-width="5.6"/>
<path d="M781 1979V1959M764.5 1960.2H797.5" fill="none" stroke="#606060" stroke-width="3.3"/>
<path d="M877.8 2204V2195.5M861.3 2196.7H894.3" fill="none" stroke="#606060" stroke-width="3.3"/>
<path d="M620 1777.8V2261.6" stroke="#141414" stroke-width="5.3" fill="none"/>
<path d="M600 2261.6H942" stroke="#000" stroke-width="5.3" fill="none"/>
<text x="589.5" y="2274.8" font-size="37" font-weight="bold" font-style="normal" text-anchor="end" fill="#000">0.0</text>
<path d="M600 2101H620" stroke="#141414" stroke-width="5.3" fill="none"/>
<text x="589.5" y="2114.2" font-size="37" font-weight="bold" font-style="normal" text-anchor="end" fill="#000">0.5</text>
<path d="M600 1940.7H620" stroke="#141414" stroke-width="5.3" fill="none"/>
<text x="589.5" y="1953.9" font-size="37" font-weight="bold" font-style="normal" text-anchor="end" fill="#000">1.0</text>
<path d="M600 1780.4H620" stroke="#141414" stroke-width="5.3" fill="none"/>
<text x="589.5" y="1793.6" font-size="37" font-weight="bold" font-style="normal" text-anchor="end" fill="#000">1.5</text>
<path d="M685 2261.6V2284.2" stroke="#141414" stroke-width="5.3" fill="none"/>
<text transform="translate(694,2314.6) rotate(-45)" font-size="36.5" font-weight="bold" text-anchor="end">Control</text>
<path d="M781 2261.6V2284.2" stroke="#141414" stroke-width="5.3" fill="none"/>
<text transform="translate(787,2317.6) rotate(-45)" font-size="36.5" font-weight="bold" text-anchor="end">F</text>
<path d="M877.8 2261.6V2284.2" stroke="#141414" stroke-width="5.3" fill="none"/>
<text transform="translate(886.8,2314.6) rotate(-45)" font-size="36.5" font-weight="bold" text-anchor="end">Ad</text>
<path d="M678.8 1815.5V1788.3H867.7V1815.5" fill="none" stroke="#000" stroke-width="6.6" stroke-linejoin="miter"/>
<text x="773" y="1779.7" font-size="54" font-weight="bold" font-style="normal" text-anchor="middle" fill="#000" font-family="'DejaVu Sans', sans-serif" stroke="#000" stroke-width="3" stroke-linejoin="round" letter-spacing="0.6">****</text>
<path d="M675.3 1913V1882.7H760.7V1913" fill="none" stroke="#000" stroke-width="6.6" stroke-linejoin="miter"/>
<text x="716.8" y="1859.5" font-size="38.8" font-weight="normal" font-style="normal" text-anchor="middle" fill="#141414" stroke="#141414" stroke-width="0.45">0.06</text>
<path d="M792.8 1942.2V1914.3H912.5V1942.2" fill="none" stroke="#000" stroke-width="6.6" stroke-linejoin="miter"/>
<text x="853" y="1906.4" font-size="54" font-weight="bold" font-style="normal" text-anchor="middle" fill="#000" font-family="'DejaVu Sans', sans-serif" stroke="#000" stroke-width="3" stroke-linejoin="round" letter-spacing="0.6">****</text>
<text x="1253.6" y="1693" font-size="44.8" font-weight="bold" font-style="italic" text-anchor="middle" fill="#000">RHD10</text>
<text transform="translate(987.5,2040) rotate(-90)" font-size="38.8" font-weight="bold" text-anchor="middle">Relative units</text>
<rect x="1126.6" y="1961.8" width="57.9" height="317.9" fill="#7f7f7f" stroke="#000" stroke-width="5.6"/>
<rect x="1222.5" y="1995.3" width="57.9" height="284.4" fill="#b2b2b2" stroke="#000" stroke-width="5.6"/>
<rect x="1319" y="2244.8" width="57.9" height="34.9" fill="#979797" stroke="#000" stroke-width="5.6"/>
<path d="M1251.5 1993.5V1954M1235 1955.2H1268" fill="none" stroke="#606060" stroke-width="3.3"/>
<path d="M1348 2243V2232M1331.5 2233.2H1364.5" fill="none" stroke="#606060" stroke-width="3.3"/>
<path d="M1091 1796.3V2279.7" stroke="#141414" stroke-width="5.3" fill="none"/>
<path d="M1071 2279.7H1413" stroke="#000" stroke-width="5.3" fill="none"/>
<text x="1060.5" y="2292.9" font-size="37" font-weight="bold" font-style="normal" text-anchor="end" fill="#000">0.0</text>
<path d="M1071 2119.5H1091" stroke="#141414" stroke-width="5.3" fill="none"/>
<text x="1060.5" y="2132.7" font-size="37" font-weight="bold" font-style="normal" text-anchor="end" fill="#000">0.5</text>
<path d="M1071 1959.5H1091" stroke="#141414" stroke-width="5.3" fill="none"/>
<text x="1060.5" y="1972.7" font-size="37" font-weight="bold" font-style="normal" text-anchor="end" fill="#000">1.0</text>
<path d="M1071 1799H1091" stroke="#141414" stroke-width="5.3" fill="none"/>
<text x="1060.5" y="1812.2" font-size="37" font-weight="bold" font-style="normal" text-anchor="end" fill="#000">1.5</text>
<path d="M1155.6 2279.7V2302.3" stroke="#141414" stroke-width="5.3" fill="none"/>
<text transform="translate(1164.6,2332.7) rotate(-45)" font-size="36.5" font-weight="bold" text-anchor="end">Control</text>
<path d="M1251.5 2279.7V2302.3" stroke="#141414" stroke-width="5.3" fill="none"/>
<text transform="translate(1257.5,2335.7) rotate(-45)" font-size="36.5" font-weight="bold" text-anchor="end">F</text>
<path d="M1348 2279.7V2302.3" stroke="#141414" stroke-width="5.3" fill="none"/>
<text transform="translate(1357,2332.7) rotate(-45)" font-size="36.5" font-weight="bold" text-anchor="end">Ad</text>
<path d="M1137.7 1799.5V1771.3H1346.7V1799.5" fill="none" stroke="#000" stroke-width="6.6" stroke-linejoin="miter"/>
<text x="1242" y="1764" font-size="54" font-weight="bold" font-style="normal" text-anchor="middle" fill="#000" font-family="'DejaVu Sans', sans-serif" stroke="#000" stroke-width="3" stroke-linejoin="round" letter-spacing="0.6">****</text>
<path d="M1143.9 1901.1V1873.3H1243.4V1901.1" fill="none" stroke="#000" stroke-width="6.6" stroke-linejoin="miter"/>
<text x="1194" y="1846" font-size="38.8" font-weight="normal" font-style="normal" text-anchor="middle" fill="#141414" stroke="#141414" stroke-width="0.45">0.38</text>
<path d="M1263.1 1908.9V1881H1371.4V1908.9" fill="none" stroke="#000" stroke-width="6.6" stroke-linejoin="miter"/>
<text x="1317" y="1873" font-size="54" font-weight="bold" font-style="normal" text-anchor="middle" fill="#000" font-family="'DejaVu Sans', sans-serif" stroke="#000" stroke-width="3" stroke-linejoin="round" letter-spacing="0.6">****</text>
<text x="1760.6" y="1700" font-size="44.8" font-weight="bold" font-style="normal" text-anchor="middle" fill="#000">AVEN</text>
<text transform="translate(1499,2033) rotate(-90)" font-size="38.8" font-weight="bold" text-anchor="middle">Relative units</text>
<rect x="1637.5" y="1952.8" width="57.9" height="317.2" fill="#7f7f7f" stroke="#000" stroke-width="5.6"/>
<rect x="1734" y="1989.4" width="57.9" height="280.6" fill="#b2b2b2" stroke="#000" stroke-width="5.6"/>
<rect x="1830" y="2210.8" width="57.9" height="59.2" fill="#979797" stroke="#000" stroke-width="5.6"/>
<path d="M1763 1987.6V1954.8M1746.5 1956H1779.5" fill="none" stroke="#606060" stroke-width="3.3"/>
<path d="M1859 2209V2197M1842.5 2198.2H1875.5" fill="none" stroke="#606060" stroke-width="3.3"/>
<path d="M1602.7 1786.3V2270" stroke="#141414" stroke-width="5.3" fill="none"/>
<path d="M1582.7 2270H1925" stroke="#000" stroke-width="5.3" fill="none"/>
<text x="1572.2" y="2283.2" font-size="37" font-weight="bold" font-style="normal" text-anchor="end" fill="#000">0.0</text>
<path d="M1582.7 2110H1602.7" stroke="#141414" stroke-width="5.3" fill="none"/>
<text x="1572.2" y="2123.2" font-size="37" font-weight="bold" font-style="normal" text-anchor="end" fill="#000">0.5</text>
<path d="M1582.7 1950H1602.7" stroke="#141414" stroke-width="5.3" fill="none"/>
<text x="1572.2" y="1963.2" font-size="37" font-weight="bold" font-style="normal" text-anchor="end" fill="#000">1.0</text>
<path d="M1582.7 1789H1602.7" stroke="#141414" stroke-width="5.3" fill="none"/>
<text x="1572.2" y="1802.2" font-size="37" font-weight="bold" font-style="normal" text-anchor="end" fill="#000">1.5</text>
<path d="M1666.4 2270V2292.7" stroke="#141414" stroke-width="5.3" fill="none"/>
<text transform="translate(1675.4,2323) rotate(-45)" font-size="36.5" font-weight="bold" text-anchor="end">Control</text>
<path d="M1763 2270V2292.7" stroke="#141414" stroke-width="5.3" fill="none"/>
<text transform="translate(1769,2326) rotate(-45)" font-size="36.5" font-weight="bold" text-anchor="end">F</text>
<path d="M1859 2270V2292.7" stroke="#141414" stroke-width="5.3" fill="none"/>
<text transform="translate(1868,2323) rotate(-45)" font-size="36.5" font-weight="bold" text-anchor="end">Ad</text>
<path d="M1682.8 1786.5V1757.1H1835.3V1786.5" fill="none" stroke="#000" stroke-width="6.6" stroke-linejoin="miter"/>
<text x="1759" y="1749" font-size="54" font-weight="bold" font-style="normal" text-anchor="middle" fill="#000" font-family="'DejaVu Sans', sans-serif" stroke="#000" stroke-width="3" stroke-linejoin="round" letter-spacing="0.6">****</text>
<path d="M1658.8 1881.5V1853.3H1756.6V1881.5" fill="none" stroke="#000" stroke-width="6.6" stroke-linejoin="miter"/>
<text x="1707.5" y="1826.1" font-size="38.8" font-weight="normal" font-style="normal" text-anchor="middle" fill="#141414" stroke="#141414" stroke-width="0.45">0.26</text>
<path d="M1788.3 1928.5V1900.9H1880.7V1928.5" fill="none" stroke="#000" stroke-width="6.6" stroke-linejoin="miter"/>
<text x="1833" y="1893.8" font-size="54" font-weight="bold" font-style="normal" text-anchor="middle" fill="#000" font-family="'DejaVu Sans', sans-serif" stroke="#000" stroke-width="3" stroke-linejoin="round" letter-spacing="0.6">****</text>
<text x="2204" y="1696.5" font-size="44.8" font-weight="bold" font-style="italic" text-anchor="middle" fill="#000">CLIP1</text>
<text transform="translate(1939,2029) rotate(-90)" font-size="38.8" font-weight="bold" text-anchor="middle">Relative units</text>
<rect x="2077.6" y="2079.8" width="57.9" height="189.7" fill="#7f7f7f" stroke="#000" stroke-width="5.6"/>
<rect x="2174.1" y="1963.8" width="57.9" height="305.7" fill="#b2b2b2" stroke="#000" stroke-width="5.6"/>
<rect x="2270.8" y="2243.5" width="57.9" height="26" fill="#979797" stroke="#000" stroke-width="5.6"/>
<path d="M2203 1962V1896.5M2186.5 1897.7H2219.5" fill="none" stroke="#606060" stroke-width="3.3"/>
<path d="M2299.7 2241.7V2235.6M2283.2 2236.8H2316.2" fill="none" stroke="#606060" stroke-width="3.3"/>
<path d="M2043 1784.3V2269.5" stroke="#141414" stroke-width="5.3" fill="none"/>
<path d="M2023 2269.5H2364" stroke="#000" stroke-width="5.3" fill="none"/>
<text x="2012.5" y="2282.7" font-size="37" font-weight="bold" font-style="normal" text-anchor="end" fill="#000">0.0</text>
<path d="M2023 2173H2043" stroke="#141414" stroke-width="5.3" fill="none"/>
<text x="2012.5" y="2186.2" font-size="37" font-weight="bold" font-style="normal" text-anchor="end" fill="#000">0.5</text>
<path d="M2023 2076.6H2043" stroke="#141414" stroke-width="5.3" fill="none"/>
<text x="2012.5" y="2089.8" font-size="37" font-weight="bold" font-style="normal" text-anchor="end" fill="#000">1.0</text>
<path d="M2023 1980H2043" stroke="#141414" stroke-width="5.3" fill="none"/>
<text x="2012.5" y="1993.2" font-size="37" font-weight="bold" font-style="normal" text-anchor="end" fill="#000">1.5</text>
<path d="M2023 1883.8H2043" stroke="#141414" stroke-width="5.3" fill="none"/>
<text x="2012.5" y="1897" font-size="37" font-weight="bold" font-style="normal" text-anchor="end" fill="#000">2.0</text>
<path d="M2023 1787H2043" stroke="#141414" stroke-width="5.3" fill="none"/>
<text x="2012.5" y="1800.2" font-size="37" font-weight="bold" font-style="normal" text-anchor="end" fill="#000">2.5</text>
<path d="M2106.5 2269.5V2292.2" stroke="#141414" stroke-width="5.3" fill="none"/>
<text transform="translate(2115.5,2322.5) rotate(-45)" font-size="36.5" font-weight="bold" text-anchor="end">Control</text>
<path d="M2203 2269.5V2292.2" stroke="#141414" stroke-width="5.3" fill="none"/>
<text transform="translate(2209,2325.5) rotate(-45)" font-size="36.5" font-weight="bold" text-anchor="end">F</text>
<path d="M2299.7 2269.5V2292.2" stroke="#141414" stroke-width="5.3" fill="none"/>
<text transform="translate(2308.7,2322.5) rotate(-45)" font-size="36.5" font-weight="bold" text-anchor="end">Ad</text>
<path d="M2099.3 1820.5V1793.7H2298.7V1820.5" fill="none" stroke="#000" stroke-width="6.6" stroke-linejoin="miter"/>
<text x="2198.6" y="1785.5" font-size="54" font-weight="bold" font-style="normal" text-anchor="middle" fill="#000" font-family="'DejaVu Sans', sans-serif" stroke="#000" stroke-width="3" stroke-linejoin="round" letter-spacing="0.6">****</text>
<path d="M2068.3 1909.5V1882.7H2183.7V1909.5" fill="none" stroke="#000" stroke-width="6.6" stroke-linejoin="miter"/>
<text x="2126" y="1856.3" font-size="38.8" font-weight="normal" font-style="normal" text-anchor="middle" fill="#141414" stroke="#141414" stroke-width="0.45">0.10</text>
<path d="M2212.9 1940.5V1913.3H2307.7V1940.5" fill="none" stroke="#000" stroke-width="6.6" stroke-linejoin="miter"/>
<text x="2259.6" y="1903" font-size="54" font-weight="bold" font-style="normal" text-anchor="middle" fill="#000" font-family="'DejaVu Sans', sans-serif" stroke="#000" stroke-width="3" stroke-linejoin="round" letter-spacing="0.6">**</text>
<text x="405" y="2448" font-size="44.8" font-weight="bold" font-style="italic" text-anchor="middle" fill="#000">GARS</text>
<text transform="translate(140.5,2801) rotate(-90)" font-size="38.8" font-weight="bold" text-anchor="middle">Relative units</text>
<rect x="278.1" y="2722.8" width="57.9" height="317.6" fill="#7f7f7f" stroke="#000" stroke-width="5.6"/>
<rect x="375.1" y="2679.8" width="57.9" height="360.6" fill="#b2b2b2" stroke="#000" stroke-width="5.6"/>
<rect x="471.1" y="2984.8" width="57.9" height="55.6" fill="#979797" stroke="#000" stroke-width="5.6"/>
<path d="M404 2678V2637M387.5 2638.2H420.5" fill="none" stroke="#606060" stroke-width="3.3"/>
<path d="M500 2983V2971.6M483.5 2972.8H516.5" fill="none" stroke="#606060" stroke-width="3.3"/>
<path d="M243 2556.3V3040.4" stroke="#141414" stroke-width="5.3" fill="none"/>
<path d="M223 3040.4H565" stroke="#000" stroke-width="5.3" fill="none"/>
<text x="212.5" y="3053.6" font-size="37" font-weight="bold" font-style="normal" text-anchor="end" fill="#000">0.0</text>
<path d="M223 2880.5H243" stroke="#141414" stroke-width="5.3" fill="none"/>
<text x="212.5" y="2893.7" font-size="37" font-weight="bold" font-style="normal" text-anchor="end" fill="#000">0.5</text>
<path d="M223 2720H243" stroke="#141414" stroke-width="5.3" fill="none"/>
<text x="212.5" y="2733.2" font-size="37" font-weight="bold" font-style="normal" text-anchor="end" fill="#000">1.0</text>
<path d="M223 2559H243" stroke="#141414" stroke-width="5.3" fill="none"/>
<text x="212.5" y="2572.2" font-size="37" font-weight="bold" font-style="normal" text-anchor="end" fill="#000">1.5</text>
<path d="M307 3040.4V3063.1" stroke="#141414" stroke-width="5.3" fill="none"/>
<text transform="translate(316,3093.4) rotate(-45)" font-size="36.5" font-weight="bold" text-anchor="end">Control</text>
<path d="M404 3040.4V3063.1" stroke="#141414" stroke-width="5.3" fill="none"/>
<text transform="translate(410,3096.4) rotate(-45)" font-size="36.5" font-weight="bold" text-anchor="end">F</text>
<path d="M500 3040.4V3063.1" stroke="#141414" stroke-width="5.3" fill="none"/>
<text transform="translate(509,3093.4) rotate(-45)" font-size="36.5" font-weight="bold" text-anchor="end">Ad</text>
<path d="M300.3 2549.5V2521.3H492.7V2549.5" fill="none" stroke="#000" stroke-width="6.6" stroke-linejoin="miter"/>
<text x="396" y="2512" font-size="54" font-weight="bold" font-style="normal" text-anchor="middle" fill="#000" font-family="'DejaVu Sans', sans-serif" stroke="#000" stroke-width="3" stroke-linejoin="round" letter-spacing="0.6">****</text>
<path d="M270.9 2638.5V2610.9H372.7V2638.5" fill="none" stroke="#000" stroke-width="6.6" stroke-linejoin="miter"/>
<text x="319.6" y="2585.5" font-size="38.8" font-weight="normal" font-style="normal" text-anchor="middle" fill="#141414" stroke="#141414" stroke-width="0.45">0.21</text>
<path d="M426 2657.5V2629H503.7V2657.5" fill="none" stroke="#000" stroke-width="6.6" stroke-linejoin="miter"/>
<text x="464.8" y="2621" font-size="54" font-weight="bold" font-style="normal" text-anchor="middle" fill="#000" font-family="'DejaVu Sans', sans-serif" stroke="#000" stroke-width="3" stroke-linejoin="round" letter-spacing="0.6">****</text>
<text x="867.6" y="2440.4" font-size="44.8" font-weight="bold" font-style="italic" text-anchor="middle" fill="#000">TPM2</text>
<text transform="translate(600.5,2801) rotate(-90)" font-size="38.8" font-weight="bold" text-anchor="middle">Relative units</text>
<rect x="738" y="2723.8" width="57.9" height="317.6" fill="#7f7f7f" stroke="#000" stroke-width="5.6"/>
<rect x="835" y="3002.8" width="57.9" height="38.6" fill="#b2b2b2" stroke="#000" stroke-width="5.6"/>
<rect x="931.8" y="2989.8" width="57.9" height="51.6" fill="#979797" stroke="#000" stroke-width="5.6"/>
<path d="M864 3001V2993M847.5 2994.2H880.5" fill="none" stroke="#606060" stroke-width="3.3"/>
<path d="M960.8 2988V2975M944.3 2976.2H977.3" fill="none" stroke="#606060" stroke-width="3.3"/>
<path d="M703 2557.3V3041.4" stroke="#141414" stroke-width="5.3" fill="none"/>
<path d="M683 3041.4H1025" stroke="#000" stroke-width="5.3" fill="none"/>
<text x="672.5" y="3054.6" font-size="37" font-weight="bold" font-style="normal" text-anchor="end" fill="#000">0.0</text>
<path d="M683 2881H703" stroke="#141414" stroke-width="5.3" fill="none"/>
<text x="672.5" y="2894.2" font-size="37" font-weight="bold" font-style="normal" text-anchor="end" fill="#000">0.5</text>
<path d="M683 2721H703" stroke="#141414" stroke-width="5.3" fill="none"/>
<text x="672.5" y="2734.2" font-size="37" font-weight="bold" font-style="normal" text-anchor="end" fill="#000">1.0</text>
<path d="M683 2560H703" stroke="#141414" stroke-width="5.3" fill="none"/>
<text x="672.5" y="2573.2" font-size="37" font-weight="bold" font-style="normal" text-anchor="end" fill="#000">1.5</text>
<path d="M767 3041.4V3064.1" stroke="#141414" stroke-width="5.3" fill="none"/>
<text transform="translate(776,3094.4) rotate(-45)" font-size="36.5" font-weight="bold" text-anchor="end">Control</text>
<path d="M864 3041.4V3064.1" stroke="#141414" stroke-width="5.3" fill="none"/>
<text transform="translate(870,3097.4) rotate(-45)" font-size="36.5" font-weight="bold" text-anchor="end">F</text>
<path d="M960.8 3041.4V3064.1" stroke="#141414" stroke-width="5.3" fill="none"/>
<text transform="translate(969.8,3094.4) rotate(-45)" font-size="36.5" font-weight="bold" text-anchor="end">Ad</text>
<path d="M761 2604.5V2576.3H950.7V2604.5" fill="none" stroke="#000" stroke-width="6.6" stroke-linejoin="miter"/>
<text x="855" y="2567" font-size="54" font-weight="bold" font-style="normal" text-anchor="middle" fill="#000" font-family="'DejaVu Sans', sans-serif" stroke="#000" stroke-width="3" stroke-linejoin="round" letter-spacing="0.6">****</text>
<path d="M767.3 2703.5V2675.3H854.3V2703.5" fill="none" stroke="#000" stroke-width="6.6" stroke-linejoin="miter"/>
<text x="810.4" y="2667.5" font-size="54" font-weight="bold" font-style="normal" text-anchor="middle" fill="#000" font-family="'DejaVu Sans', sans-serif" stroke="#000" stroke-width="3" stroke-linejoin="round" letter-spacing="0.6">****</text>
<path d="M859.3 2839.1V2810.3H943.7V2839.1" fill="none" stroke="#000" stroke-width="6.6" stroke-linejoin="miter"/>
<text x="900.8" y="2785.5" font-size="38.8" font-weight="normal" font-style="normal" text-anchor="middle" fill="#141414" stroke="#141414" stroke-width="0.45">0.30</text>
<text x="420" y="3314.7" font-size="47.7" font-weight="bold" font-style="italic" text-anchor="middle" fill="#000">PLIN2</text>
<text transform="translate(170,3701) rotate(-90)" font-size="41.3" font-weight="bold" text-anchor="middle">Relative units</text>
<rect x="284.2" y="3894.4" width="61.7" height="61.4" fill="#7f7f7f" stroke="#000" stroke-width="6"/>
<rect x="387" y="3910.5" width="61.7" height="45.3" fill="#b2b2b2" stroke="#000" stroke-width="6"/>
<rect x="489.7" y="3634.8" width="61.7" height="321" fill="#979797" stroke="#000" stroke-width="6"/>
<path d="M417.8 3908.5V3893.8M400.2 3895H435.4" fill="none" stroke="#606060" stroke-width="3.5"/>
<path d="M520.5 3632.8V3519M502.9 3520.2H538.1" fill="none" stroke="#606060" stroke-width="3.5"/>
<path d="M249 3442V3955.8" stroke="#141414" stroke-width="5.6" fill="none"/>
<path d="M227.7 3955.8H588" stroke="#000" stroke-width="5.6" fill="none"/>
<text x="216.5" y="3969.5" font-size="38.2" font-weight="bold" font-style="normal" text-anchor="end" fill="#000">0</text>
<path d="M227.7 3828.4H249" stroke="#141414" stroke-width="5.6" fill="none"/>
<text x="216.5" y="3842.1" font-size="38.2" font-weight="bold" font-style="normal" text-anchor="end" fill="#000">2</text>
<path d="M227.7 3700.6H249" stroke="#141414" stroke-width="5.6" fill="none"/>
<text x="216.5" y="3714.3" font-size="38.2" font-weight="bold" font-style="normal" text-anchor="end" fill="#000">4</text>
<path d="M227.7 3573H249" stroke="#141414" stroke-width="5.6" fill="none"/>
<text x="216.5" y="3586.7" font-size="38.2" font-weight="bold" font-style="normal" text-anchor="end" fill="#000">6</text>
<path d="M227.7 3444.8H249" stroke="#141414" stroke-width="5.6" fill="none"/>
<text x="216.5" y="3458.5" font-size="38.2" font-weight="bold" font-style="normal" text-anchor="end" fill="#000">8</text>
<path d="M315 3955.8V3979.9" stroke="#141414" stroke-width="5.6" fill="none"/>
<text transform="translate(324.6,4012.2) rotate(-45)" font-size="38.9" font-weight="bold" text-anchor="end">Control</text>
<path d="M417.8 3955.8V3979.9" stroke="#141414" stroke-width="5.6" fill="none"/>
<text transform="translate(424.2,4015.4) rotate(-45)" font-size="38.9" font-weight="bold" text-anchor="end">F</text>
<path d="M520.5 3955.8V3979.9" stroke="#141414" stroke-width="5.6" fill="none"/>
<text transform="translate(530.1,4012.2) rotate(-45)" font-size="38.9" font-weight="bold" text-anchor="end">Ad</text>
<path d="M313.5 3424V3394.9H501.9V3424" fill="none" stroke="#000" stroke-width="7" stroke-linejoin="miter"/>
<text x="406.5" y="3370" font-size="41.3" font-weight="normal" font-style="normal" text-anchor="middle" fill="#141414" stroke="#141414" stroke-width="0.45">0.06</text>
<path d="M404.5 3518.2V3488.5H515.5V3518.2" fill="none" stroke="#000" stroke-width="7" stroke-linejoin="miter"/>
<text x="459" y="3464.5" font-size="41.3" font-weight="normal" font-style="normal" text-anchor="middle" fill="#141414" stroke="#141414" stroke-width="0.45">0.0503</text>
<path d="M307.5 3717.5V3688.5H406.5V3717.5" fill="none" stroke="#000" stroke-width="7" stroke-linejoin="miter"/>
<text x="355" y="3664.5" font-size="41.3" font-weight="normal" font-style="normal" text-anchor="middle" fill="#141414" stroke="#141414" stroke-width="0.45">0.32</text>
<text x="909" y="3329.7" font-size="47.7" font-weight="bold" font-style="italic" text-anchor="middle" fill="#000">PDLIM1</text>
<text transform="translate(661.5,3688.6) rotate(-90)" font-size="41.3" font-weight="bold" text-anchor="middle">Relative units</text>
<rect x="774.8" y="3819.8" width="61.7" height="124" fill="#7f7f7f" stroke="#000" stroke-width="6"/>
<rect x="877.6" y="3782" width="61.7" height="161.8" fill="#b2b2b2" stroke="#000" stroke-width="6"/>
<rect x="980.2" y="3590" width="61.7" height="353.8" fill="#979797" stroke="#000" stroke-width="6"/>
<path d="M908.4 3780V3765.7M890.8 3766.9H926" fill="none" stroke="#606060" stroke-width="3.5"/>
<path d="M1011 3588V3514.7M993.4 3515.9H1028.6" fill="none" stroke="#606060" stroke-width="3.5"/>
<path d="M738.5 3429V3943.8" stroke="#141414" stroke-width="5.6" fill="none"/>
<path d="M717.2 3943.8H1078" stroke="#000" stroke-width="5.6" fill="none"/>
<text x="706" y="3957.5" font-size="38.2" font-weight="bold" font-style="normal" text-anchor="end" fill="#000">0</text>
<path d="M717.2 3816H738.5" stroke="#141414" stroke-width="5.6" fill="none"/>
<text x="706" y="3829.7" font-size="38.2" font-weight="bold" font-style="normal" text-anchor="end" fill="#000">1</text>
<path d="M717.2 3688H738.5" stroke="#141414" stroke-width="5.6" fill="none"/>
<text x="706" y="3701.7" font-size="38.2" font-weight="bold" font-style="normal" text-anchor="end" fill="#000">2</text>
<path d="M717.2 3560H738.5" stroke="#141414" stroke-width="5.6" fill="none"/>
<text x="706" y="3573.7" font-size="38.2" font-weight="bold" font-style="normal" text-anchor="end" fill="#000">3</text>
<path d="M717.2 3431.8H738.5" stroke="#141414" stroke-width="5.6" fill="none"/>
<text x="706" y="3445.5" font-size="38.2" font-weight="bold" font-style="normal" text-anchor="end" fill="#000">4</text>
<path d="M805.6 3943.8V3967.9" stroke="#141414" stroke-width="5.6" fill="none"/>
<text transform="translate(815.2,4000.2) rotate(-45)" font-size="38.9" font-weight="bold" text-anchor="end">Control</text>
<path d="M908.4 3943.8V3967.9" stroke="#141414" stroke-width="5.6" fill="none"/>
<text transform="translate(914.8,4003.4) rotate(-45)" font-size="38.9" font-weight="bold" text-anchor="end">F</text>
<path d="M1011 3943.8V3967.9" stroke="#141414" stroke-width="5.6" fill="none"/>
<text transform="translate(1020.6,4000.2) rotate(-45)" font-size="38.9" font-weight="bold" text-anchor="end">Ad</text>
<path d="M803.5 3442.5V3412.5H1019.5V3442.5" fill="none" stroke="#000" stroke-width="7" stroke-linejoin="miter"/>
<text x="910.8" y="3402.8" font-size="57.5" font-weight="bold" font-style="normal" text-anchor="middle" fill="#000" font-family="'DejaVu Sans', sans-serif" stroke="#000" stroke-width="3.2" stroke-linejoin="round" letter-spacing="0.6">**</text>
<path d="M884.5 3523.3V3495.5H1005.1V3523.3" fill="none" stroke="#000" stroke-width="7" stroke-linejoin="miter"/>
<text x="946" y="3482.8" font-size="57.5" font-weight="bold" font-style="normal" text-anchor="middle" fill="#000" font-family="'DejaVu Sans', sans-serif" stroke="#000" stroke-width="3.2" stroke-linejoin="round" letter-spacing="0.6">*</text>
<path d="M802.5 3645.5V3616.5H905.5V3645.5" fill="none" stroke="#000" stroke-width="7" stroke-linejoin="miter"/>
<text x="852.5" y="3606.8" font-size="57.5" font-weight="bold" font-style="normal" text-anchor="middle" fill="#000" font-family="'DejaVu Sans', sans-serif" stroke="#000" stroke-width="3.2" stroke-linejoin="round" letter-spacing="0.6">*</text>
<text x="1415" y="3336.6" font-size="47.7" font-weight="bold" font-style="italic" text-anchor="middle" fill="#000">MT1X</text>
<text transform="translate(1117,3682.5) rotate(-90)" font-size="41.3" font-weight="bold" text-anchor="middle">Relative units</text>
<rect x="1279.7" y="3891.7" width="61.7" height="45.3" fill="#7f7f7f" stroke="#000" stroke-width="6"/>
<rect x="1382.5" y="3891.7" width="61.7" height="45.3" fill="#b2b2b2" stroke="#000" stroke-width="6"/>
<rect x="1484.5" y="3687" width="61.7" height="63" fill="#979797"/>
<path d="M1484.5 3750V3690H1546.1V3750" fill="none" stroke="#000" stroke-width="6"/>
<rect x="1484.5" y="3796.5" width="61.7" height="140.5" fill="#979797"/>
<path d="M1484.5 3796.5V3937M1546.1 3796.5V3937" fill="none" stroke="#000" stroke-width="6"/>
<path d="M1413.3 3889.7V3879.4M1395.7 3880.6H1430.9" fill="none" stroke="#606060" stroke-width="3.5"/>
<path d="M1515.3 3688V3620.8M1497.7 3622H1532.9" fill="none" stroke="#606060" stroke-width="3.5"/>
<path d="M1243.8 3422.3V3565" stroke="#141414" stroke-width="5.6" fill="none"/>
<path d="M1243.8 3614.5V3751.5" stroke="#141414" stroke-width="5.6" fill="none"/>
<path d="M1243.8 3798V3937" stroke="#141414" stroke-width="5.6" fill="none"/>
<path d="M1230.7 3554.2L1258.8 3582.3" stroke="#141414" stroke-width="4.4" fill="none"/>
<path d="M1228.6 3596.7L1258.8 3626.2" stroke="#141414" stroke-width="4.4" fill="none"/>
<path d="M1228.6 3737.8L1258.8 3765.2" stroke="#141414" stroke-width="4.4" fill="none"/>
<path d="M1228.6 3780.3L1258.8 3809.7" stroke="#141414" stroke-width="4.4" fill="none"/>
<path d="M1222.5 3937H1582.7" stroke="#000" stroke-width="5.6" fill="none"/>
<text x="1211.3" y="3950.7" font-size="38.2" font-weight="bold" font-style="normal" text-anchor="end" fill="#000">0</text>
<path d="M1222.5 3889.7H1243.8" stroke="#141414" stroke-width="5.6" fill="none"/>
<text x="1211.3" y="3903.4" font-size="38.2" font-weight="bold" font-style="normal" text-anchor="end" fill="#000">1</text>
<path d="M1222.5 3842.7H1243.8" stroke="#141414" stroke-width="5.6" fill="none"/>
<text x="1211.3" y="3856.4" font-size="38.2" font-weight="bold" font-style="normal" text-anchor="end" fill="#000">2</text>
<text x="1211.3" y="3808.7" font-size="38.2" font-weight="bold" font-style="normal" text-anchor="end" fill="#000">3</text>
<path d="M1215.8 3722.8H1243.8" stroke="#141414" stroke-width="5.6" fill="none"/>
<text x="1204.6" y="3736.5" font-size="38.2" font-weight="bold" font-style="normal" text-anchor="end" fill="#000">80</text>
<path d="M1215.8 3681.2H1243.8" stroke="#141414" stroke-width="5.6" fill="none"/>
<text x="1204.6" y="3694.9" font-size="38.2" font-weight="bold" font-style="normal" text-anchor="end" fill="#000">100</text>
<path d="M1215.8 3638.9H1243.8" stroke="#141414" stroke-width="5.6" fill="none"/>
<text x="1204.6" y="3652.6" font-size="38.2" font-weight="bold" font-style="normal" text-anchor="end" fill="#000">120</text>
<path d="M1215.8 3552.3H1243.8" stroke="#141414" stroke-width="5.6" fill="none"/>
<text x="1204.6" y="3566" font-size="38.2" font-weight="bold" font-style="normal" text-anchor="end" fill="#000">140</text>
<path d="M1215.8 3510.5H1243.8" stroke="#141414" stroke-width="5.6" fill="none"/>
<text x="1204.6" y="3524.2" font-size="38.2" font-weight="bold" font-style="normal" text-anchor="end" fill="#000">160</text>
<path d="M1215.8 3467.7H1243.8" stroke="#141414" stroke-width="5.6" fill="none"/>
<text x="1204.6" y="3481.4" font-size="38.2" font-weight="bold" font-style="normal" text-anchor="end" fill="#000">180</text>
<path d="M1215.8 3425H1243.8" stroke="#141414" stroke-width="5.6" fill="none"/>
<text x="1204.6" y="3438.7" font-size="38.2" font-weight="bold" font-style="normal" text-anchor="end" fill="#000">200</text>
<path d="M1310.5 3937V3961.1" stroke="#141414" stroke-width="5.6" fill="none"/>
<text transform="translate(1320.1,3993.4) rotate(-45)" font-size="38.9" font-weight="bold" text-anchor="end">Control</text>
<path d="M1413.3 3937V3961.1" stroke="#141414" stroke-width="5.6" fill="none"/>
<text transform="translate(1419.7,3996.6) rotate(-45)" font-size="38.9" font-weight="bold" text-anchor="end">F</text>
<path d="M1515.3 3937V3961.1" stroke="#141414" stroke-width="5.6" fill="none"/>
<text transform="translate(1524.9,3993.4) rotate(-45)" font-size="38.9" font-weight="bold" text-anchor="end">Ad</text>
<path d="M1303.5 3475.5V3447.5H1487.5V3475.5" fill="none" stroke="#000" stroke-width="7" stroke-linejoin="miter"/>
<text x="1395.5" y="3436.3" font-size="57.5" font-weight="bold" font-style="normal" text-anchor="middle" fill="#000" font-family="'DejaVu Sans', sans-serif" stroke="#000" stroke-width="3.2" stroke-linejoin="round" letter-spacing="0.6">*</text>
<path d="M1375.5 3566.1V3537.5H1483.5V3566.1" fill="none" stroke="#000" stroke-width="7" stroke-linejoin="miter"/>
<text x="1429.7" y="3527.8" font-size="57.5" font-weight="bold" font-style="normal" text-anchor="middle" fill="#000" font-family="'DejaVu Sans', sans-serif" stroke="#000" stroke-width="3.2" stroke-linejoin="round" letter-spacing="0.6">*</text>
<path d="M1303.5 3680.5V3650.5H1403.2V3680.5" fill="none" stroke="#000" stroke-width="7" stroke-linejoin="miter"/>
<text x="1352" y="3623.5" font-size="41.3" font-weight="normal" font-style="normal" text-anchor="middle" fill="#141414" stroke="#141414" stroke-width="0.45">0.98</text>
<text x="1838" y="3342.7" font-size="47.7" font-weight="bold" font-style="italic" text-anchor="middle" fill="#000">SOD2</text>
<text transform="translate(1589,3687) rotate(-90)" font-size="41.3" font-weight="bold" text-anchor="middle">Relative units</text>
<rect x="1702.6" y="3773.5" width="61.7" height="169.2" fill="#7f7f7f" stroke="#000" stroke-width="6"/>
<rect x="1805.2" y="3646.8" width="61.7" height="295.9" fill="#b2b2b2" stroke="#000" stroke-width="6"/>
<rect x="1908.2" y="3766.7" width="61.7" height="176" fill="#979797" stroke="#000" stroke-width="6"/>
<path d="M1836 3644.8V3534M1818.4 3535.2H1853.6" fill="none" stroke="#606060" stroke-width="3.5"/>
<path d="M1939 3764.7V3689M1921.4 3690.2H1956.6" fill="none" stroke="#606060" stroke-width="3.5"/>
<path d="M1666.6 3425.6V3942.7" stroke="#141414" stroke-width="5.6" fill="none"/>
<path d="M1645.3 3942.7H2007" stroke="#000" stroke-width="5.6" fill="none"/>
<text x="1634.1" y="3956.4" font-size="38.2" font-weight="bold" font-style="normal" text-anchor="end" fill="#000">0</text>
<path d="M1645.3 3771.5H1666.6" stroke="#141414" stroke-width="5.6" fill="none"/>
<text x="1634.1" y="3785.2" font-size="38.2" font-weight="bold" font-style="normal" text-anchor="end" fill="#000">1</text>
<path d="M1645.3 3600H1666.6" stroke="#141414" stroke-width="5.6" fill="none"/>
<text x="1634.1" y="3613.7" font-size="38.2" font-weight="bold" font-style="normal" text-anchor="end" fill="#000">2</text>
<path d="M1645.3 3428.4H1666.6" stroke="#141414" stroke-width="5.6" fill="none"/>
<text x="1634.1" y="3442.1" font-size="38.2" font-weight="bold" font-style="normal" text-anchor="end" fill="#000">3</text>
<path d="M1733.4 3942.7V3966.8" stroke="#141414" stroke-width="5.6" fill="none"/>
<text transform="translate(1743,3999.1) rotate(-45)" font-size="38.9" font-weight="bold" text-anchor="end">Control</text>
<path d="M1836 3942.7V3966.8" stroke="#141414" stroke-width="5.6" fill="none"/>
<text transform="translate(1842.4,4002.3) rotate(-45)" font-size="38.9" font-weight="bold" text-anchor="end">F</text>
<path d="M1939 3942.7V3966.8" stroke="#141414" stroke-width="5.6" fill="none"/>
<text transform="translate(1948.6,3999.1) rotate(-45)" font-size="38.9" font-weight="bold" text-anchor="end">Ad</text>
<path d="M1728.1 3492.5V3462.5H1929.9V3492.5" fill="none" stroke="#000" stroke-width="7" stroke-linejoin="miter"/>
<text x="1827.6" y="3435" font-size="41.3" font-weight="normal" font-style="normal" text-anchor="middle" fill="#141414" stroke="#141414" stroke-width="0.45">0.92</text>
<path d="M1717.5 3618.5V3589.1H1819.3V3618.5" fill="none" stroke="#000" stroke-width="7" stroke-linejoin="miter"/>
<text x="1767" y="3560.5" font-size="41.3" font-weight="normal" font-style="normal" text-anchor="middle" fill="#141414" stroke="#141414" stroke-width="0.45">0.28</text>
<path d="M1856.5 3634.5V3604.5H1964.1V3634.5" fill="none" stroke="#000" stroke-width="7" stroke-linejoin="miter"/>
<text x="1909.8" y="3576.5" font-size="41.3" font-weight="normal" font-style="normal" text-anchor="middle" fill="#141414" stroke="#141414" stroke-width="0.45">0.39</text>
<text x="64.5" y="176.3" font-size="103" font-weight="bold" font-style="normal" text-anchor="start" fill="#000">A</text>
<text x="142.5" y="3316" font-size="107" font-weight="bold" font-style="normal" text-anchor="start" fill="#000">B</text>
</g></svg>
</body></html>
